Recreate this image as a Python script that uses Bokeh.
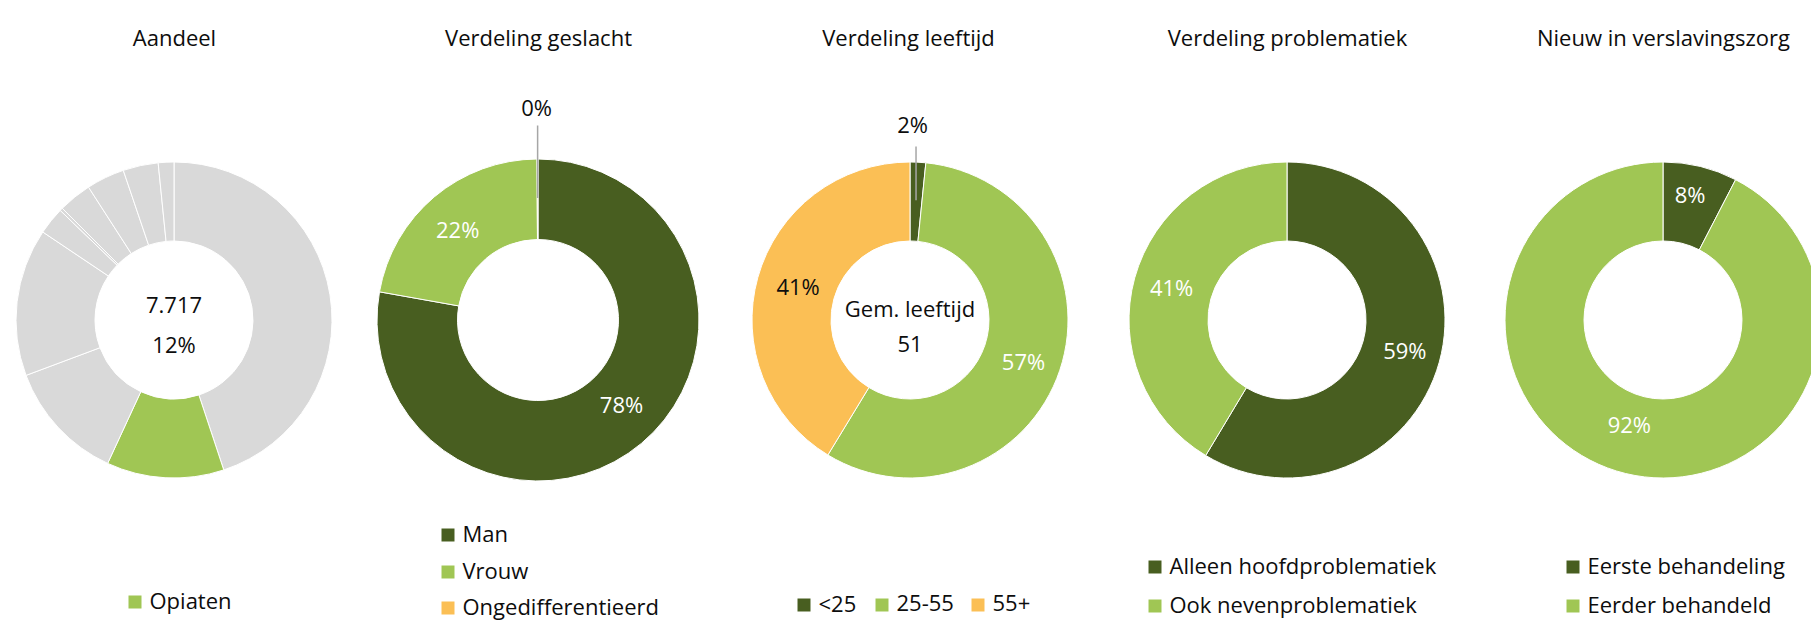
import math
from bokeh.plotting import figure
from bokeh.models import ColumnDataSource, Range1d
from bokeh.core.properties import value
from bokeh.embed import file_html
from bokeh.resources import INLINE

# ---------------- data ----------------
titles = ["Aandeel", "Verdeling geslacht", "Verdeling leeftijd",
          "Verdeling problematiek", "Nieuw in verslavingszorg"]

aandeel_categories = ["Overig 1", "Opiaten", "Overig 2", "Overig 3", "Overig 4",
                      "Overig 5", "Overig 6", "Overig 7", "Overig 8", "Overig 9"]
aandeel_values = [44.9, 12.0, 12.4, 15.1, 2.8, 0.3, 3.4, 3.9, 3.6, 1.6]
aandeel_count = "7.717"

geslacht_categories = ["Man", "Vrouw", "Ongedifferentieerd"]
geslacht_values = [77.8, 22.1, 0.1]

leeftijd_categories = ["<25", "25-55", "55+"]
leeftijd_values = [1.6, 57.1, 41.3]
gem_leeftijd = 51

problematiek_categories = ["Alleen hoofdproblematiek", "Ook nevenproblematiek"]
problematiek_values = [58.6, 41.4]

nieuw_categories = ["Eerste behandeling", "Eerder behandeld"]
nieuw_values = [7.6, 92.4]

# ---------------- styles ----------------
DARK = "#485E20"
LIGHT = "#A0C654"
ORANGE = "#FBBF55"
GREY = "#D9D9D9"
FONT = value("Open Sans")
FS = "22px"
TXT = "#0D0D0D"

W, H = 1811, 625
TEXT_SHIFT = -3.5   # optical correction for text baseline (px, negative = up)


def X(px):
    return px


def Y(py):
    return H - py


def TY(py):
    return Y(py + TEXT_SHIFT)


p = figure(width=W, height=H, x_range=Range1d(0, W), y_range=Range1d(0, H),
           x_axis_type=None, y_axis_type=None, min_border=0,
           outline_line_color=None, toolbar_location=None,
           output_backend="svg", background_fill_color="white")
p.grid.visible = False


def draw_donut(cx, cy, r_in, r_out, values, colors):
    tot = float(sum(values))
    cum = 0.0
    a0s, a1s = [], []
    for v in values:
        a0s.append(cum / tot * 2 * math.pi)
        cum += v
        a1s.append(cum / tot * 2 * math.pi)
    src = ColumnDataSource(dict(start=[math.pi / 2 - a for a in a1s],
                                end=[math.pi / 2 - a for a in a0s],
                                color=colors))
    p.annular_wedge(x=X(cx), y=Y(cy), inner_radius=r_in, outer_radius=r_out,
                    start_angle="start", end_angle="end", direction="anticlock",
                    fill_color="color", line_color="white", line_width=1,
                    source=src)
    return [(a + b) / 2 for a, b in zip(a0s, a1s)]


def inside_labels(cx, cy, r, values, mids, idx, colors, nudges):
    xs = [X(cx) + r * math.sin(mids[i]) + nudges[k][0] for k, i in enumerate(idx)]
    ys = [Y(cy) + r * math.cos(mids[i]) - nudges[k][1] for k, i in enumerate(idx)]
    txt = [f"{round(values[i])}%" for i in idx]
    p.text(x=xs, y=ys, text=txt, text_font=FONT, text_font_size=FS,
           text_align="center", text_baseline="middle", text_color=colors)


def outside_label(cx, cy, r_mid, r_lab, r_lead, values, mids, i, nudge):
    xx = X(cx) + r_mid * math.sin(mids[i])
    p.line(x=[xx, xx], y=[Y(cy) + r_lead, Y(cy) + r_mid * math.cos(mids[i])],
           line_color="#A6A6A6", line_width=1.5)
    p.text(x=[xx + nudge[0]], y=[Y(cy) + r_lab - nudge[1]],
           text=[f"{round(values[i])}%"],
           text_font=FONT, text_font_size=FS, text_align="center",
           text_baseline="middle", text_color=TXT)


def legend(labels, colors, xs, ys):
    p.rect(x=[X(x) + 6.5 for x in xs], y=[Y(y) for y in ys], width=13, height=13,
           fill_color=colors, line_color=None)
    p.text(x=[X(x) + 21 for x in xs], y=[Y(y - 2) for y in ys], text=labels,
           text_font=FONT, text_font_size=FS, text_align="left",
           text_baseline="middle", text_color=TXT)


# titles
title_x = [174, 538, 908, 1287, 1663]
p.text(x=[X(v) for v in title_x], y=[TY(39.5)] * 5, text=titles, text_font=FONT,
       text_font_size=FS, text_align="center", text_baseline="middle", text_color=TXT)

CY = 319.5

# 1. Aandeel
c1 = [LIGHT if c == "Opiaten" else GREY for c in aandeel_categories]
draw_donut(173.5, CY, 79, 158, aandeel_values, c1)
opi = aandeel_values[aandeel_categories.index("Opiaten")]
p.text(x=[X(173.5)] * 2, y=[TY(307.5), TY(347)],
       text=[aandeel_count, f"{round(opi)}%"], text_font=FONT, text_font_size=FS,
       text_align="center", text_baseline="middle", text_color=TXT)
legend(["Opiaten"], [LIGHT], [128], [601.5])

# 2. Geslacht
c2 = [DARK, LIGHT, ORANGE]
m2 = draw_donut(537.5, CY, 80.5, 161, geslacht_values, c2)
inside_labels(537.5, CY, 121, geslacht_values, m2, [0, 1], ["white", "white"],
              [(5.8, -9.2), (-2.3, 1.2)])
outside_label(537.5, CY, 122, 210.5, 194.5, geslacht_values, m2, 2, (-1, -2.3))
legend(geslacht_categories, c2, [441] * 3, [534.5, 571.5, 607.5])

# 3. Leeftijd
c3 = [DARK, LIGHT, ORANGE]
m3 = draw_donut(909.5, CY, 79, 158, leeftijd_values, c3)
inside_labels(909.5, CY, 121, leeftijd_values, m3, [1, 2], ["white", TXT],
              [(-1.2, 2.3), (4.6, -1.2)])
outside_label(909.5, CY, 120, 191, 173.5, leeftijd_values, m3, 0, (-3.5, -4.6))
p.text(x=[X(909.5)] * 2, y=[TY(310.5), TY(347)],
       text=["Gem. leeftijd", str(gem_leeftijd)], text_font=FONT, text_font_size=FS,
       text_align="center", text_baseline="middle", text_color=TXT)
legend(leeftijd_categories, c3, [797, 875, 971], [604.5] * 3)

# 4. Problematiek
c4 = [DARK, LIGHT]
m4 = draw_donut(1286.5, CY, 79, 158, problematiek_values, c4)
inside_labels(1286.5, CY, 121, problematiek_values, m4, [0, 1], ["white", "white"],
              [(1.2, -2.3), (1.2, -1.2)])
legend(problematiek_categories, c4, [1148] * 2, [566.5, 605.5])

# 5. Nieuw
c5 = [DARK, LIGHT]
m5 = draw_donut(1662.5, CY, 79, 158, nieuw_values, c5)
inside_labels(1662.5, CY, 121, nieuw_values, m5, [0, 1], ["white", "white"],
              [(-1.5, -8), (-5, -13.5)])
legend(nieuw_categories, c5, [1566] * 2, [566.5, 605.5])

open("out.html", "w").write(file_html(p, INLINE))
